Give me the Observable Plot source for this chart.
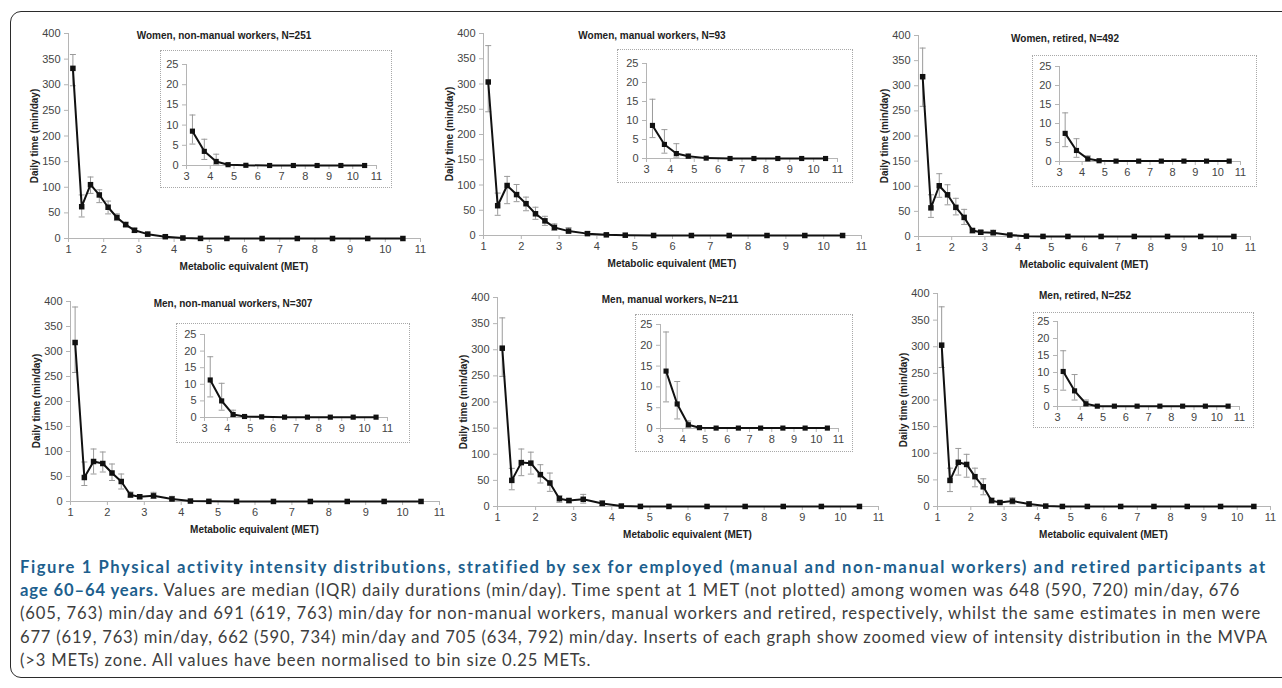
<!DOCTYPE html>
<html><head><meta charset="utf-8">
<script src="https://cdn.jsdelivr.net/npm/d3@7"></script>
<script src="https://cdn.jsdelivr.net/npm/@observablehq/plot@0.6"></script>
<style>
html,body{margin:0;padding:0;background:#fff;width:1282px;height:688px;overflow:hidden;}
#stage{position:relative;width:1282px;height:688px;font-family:"Liberation Sans",Arial,sans-serif;overflow:hidden;}
.frame{position:absolute;left:10px;top:11px;width:1320px;height:667px;border:1.6px solid #2b2b2b;border-radius:11px;box-sizing:border-box;}
.lab{position:absolute;font-weight:bold;font-size:10px;color:#222;white-space:nowrap;transform:translate(-50%,-50%);}
.ylab{position:absolute;font-weight:bold;font-size:10px;color:#222;white-space:nowrap;transform:translate(-50%,-50%) rotate(-90deg);}
.inset{position:absolute;border:1px dotted #a8a8a8;background:#fff;box-sizing:border-box;}
.inset svg{position:absolute;left:-1px;top:-1px;}
.caption{position:absolute;left:20px;top:556px;font-family:Lato,"Open Sans",sans-serif;font-size:16.6px;color:#3d3d3d;}
.caption .ln{white-space:nowrap;height:23.2px;line-height:23.2px;}
.caption .ln span.w{display:inline-block;}
.caption b{color:#1d5f8e;font-weight:bold;}
</style></head>
<body><div id="stage"><div class="frame"></div></div>
<script>
// ---------- data ----------
const met = [1.125,1.375,1.625,1.875,2.125,2.375,2.625,2.875,3.25,3.75,4.25,4.75,5.5,6.5,7.5,8.5,9.5,10.5];
const mainXTicks = [1,2,3,4,5,6,7,8,9,10,11];
const mainYTicks = [0,50,100,150,200,250,300,350,400];
const insetXTicks = [3,4,5,6,7,8,9,10,11];
const insetYTicks = [0,5,10,15,20,25];
const titles = ["Women, non-manual workers, N=251","Women, manual workers, N=93","Women, retired, N=492",
                "Men, non-manual workers, N=307","Men, manual workers, N=211","Men, retired, N=252"];
const xTitle = "Metabolic equivalent (MET)";
const yTitle = "Daily time (min/day)";

const womenNonManual    = [332,62,105,85,61,41,27,16,8.5,3.5,1.0,0.2,0.05,0,0,0,0,0];
const womenNonManualLo  = [298,42,88,70,48,35,23,12,5.3,1.5,0.2,0,0,0,0,0,0,0];
const womenNonManualHi  = [359,85,120,95,73,48,32,20,12.5,6.5,2.8,0.6,0.2,0,0,0,0,0];

const womenManual       = [304,59,99,81,63,43,29,16,8.7,3.7,1.3,0.6,0.1,0,0,0,0,0];
const womenManualLo     = [245,40,63,67,49,32,20,10,5.5,1.4,0.35,0.1,0,0,0,0,0,0];
const womenManualHi     = [376,84,117,101,76,56,38,23,15.6,7.6,3.9,1.2,0.3,0,0,0,0,0];

const womenRetired      = [318,57,101,83,58,38,12,8.5,7.4,2.9,0.7,0.2,0.1,0.1,0.1,0.1,0.1,0.1];
const womenRetiredLo    = [259,38,78,63,43,24,7,5,3.9,1.1,0.1,0,0.1,0.1,0.1,0.1,0.1,0.1];
const womenRetiredHi    = [375,83,125,103,76,54,15,12,12.8,6.0,1.5,0.5,0.1,0.1,0.1,0.1,0.1,0.1];

const menNonManual      = [318,48,80,76,57,40,13,9.5,11.3,5.0,0.9,0.3,0.2,0.1,0.1,0.1,0.1,0.1];
const menNonManualLo    = [258,32,55,59,42,25,9,6,6.2,2.2,0.3,0.1,0.2,0.1,0.1,0.1,0.1,0.1];
const menNonManualHi    = [389,79,105,99,75,55,19,13,18.3,10.3,2.2,0.6,0.2,0.1,0.1,0.1,0.1,0.1];

const menManual         = [303,50,84,83,61,45,15,11.5,13.8,5.9,0.9,0.2,0.1,0.1,0.1,0.1,0.1,0.1];
const menManualLo       = [249,32,59,62,45,29,8,7,6.4,2.3,0.3,0,0.1,0.1,0.1,0.1,0.1,0.1];
const menManualHi       = [361,73,110,104,80,64,21,15,23.2,11.3,1.8,0.5,0.1,0.1,0.1,0.1,0.1,0.1];

const menRetired        = [303,49,83,79,56,37,11,7.5,10.3,4.6,0.8,0.1,0.1,0.1,0.1,0.1,0.1,0.1];
const menRetiredLo      = [261,28,59,55,37,22,7,5,4.8,1.9,0.2,0,0.1,0.1,0.1,0.1,0.1,0.1];
const menRetiredHi      = [375,72,109,98,72,52,16,11,16.4,9.4,1.9,0.4,0.1,0.1,0.1,0.1,0.1,0.1];

const series = [
  [womenNonManual, womenNonManualLo, womenNonManualHi],
  [womenManual, womenManualLo, womenManualHi],
  [womenRetired, womenRetiredLo, womenRetiredHi],
  [menNonManual, menNonManualLo, menNonManualHi],
  [menManual, menManualLo, menManualHi],
  [menRetired, menRetiredLo, menRetiredHi]
];

// ---------- layout (pixel geometry of each panel) ----------
const layout = [
 {xL:68,  xR:420,  yT:33,  yB:238, tx:224,  ty:35,  box:[160,50,392,188],   ix:[186,376],  iy:[64,165]},
 {xL:483, xR:861,  yT:33,  yB:235, tx:652,  ty:35,  box:[617,49,853,183],   ix:[646,837],  iy:[63,158]},
 {xL:918, xR:1250, yT:35,  yB:236, tx:1065, ty:38,  box:[1032,55,1257,187], ix:[1059,1240], iy:[66,161]},
 {xL:70,  xR:439,  yT:301, yB:501, tx:233,  ty:303, box:[176,323,410,443],  ix:[204,387],  iy:[334,417]},
 {xL:497, xR:878,  yT:297, yB:506, tx:670,  ty:299, box:[635,314,853,452],  ix:[660,838],  iy:[324,428]},
 {xL:937, xR:1270, yT:293, yB:506, tx:1085, ty:295, box:[1033,312,1254,428],ix:[1057,1239], iy:[321,406]}
];

const capSym = {draw(ctx){ ctx.moveTo(-3,0); ctx.lineTo(3,0); }};
const AX = "#b5b5b5", TXT = "#444", ERR = "#9a9a9a", LINE = "#111";
const stage = document.getElementById("stage");

function marksFor(d, yTicks, xTicks, rDot, xMin){
  const e = d.filter(p => p.hi - p.lo > 0.05);
  return [
    Plot.axisY({ticks:yTicks, tickSize:4, tickPadding:4, stroke:AX, fill:TXT, label:null}),
    Plot.axisX({ticks:xTicks, tickSize:4, tickPadding:3, stroke:AX, fill:TXT, label:null}),
    Plot.ruleX([xMin], {stroke:AX}),
    Plot.ruleY([0], {stroke:AX}),
    Plot.ruleX(e, {x:"x", y1:"lo", y2:"hi", stroke:ERR, strokeWidth:1}),
    Plot.dot(e, {x:"x", y:"lo", symbol:capSym, fill:"none", stroke:ERR, strokeWidth:1}),
    Plot.dot(e, {x:"x", y:"hi", symbol:capSym, fill:"none", stroke:ERR, strokeWidth:1}),
    Plot.line(d, {x:"x", y:"y", stroke:LINE, strokeWidth:2}),
    Plot.dot(d, {x:"x", y:"y", symbol:"square", fill:LINE, stroke:"none", r:rDot})
  ];
}

layout.forEach((g, i) => {
  const [vals, lo, hi] = series[i];
  const data = met.map((x, k) => ({x, y:vals[k], lo:lo[k], hi:hi[k]}));
  // main
  const mL = 50, mR = 14, mT = 10, mB = 28;
  const svg = Plot.plot({
    width: g.xR - g.xL + mL + mR, height: g.yB - g.yT + mT + mB,
    marginLeft:mL, marginRight:mR, marginTop:mT, marginBottom:mB,
    style:{fontFamily:'"Liberation Sans", Arial, sans-serif', fontSize:"11px", background:"transparent", overflow:"visible"},
    x:{domain:[1,11]}, y:{domain:[0,400]},
    marks: marksFor(data, mainYTicks, mainXTicks, 3.1, 1)
  });
  svg.style.position = "absolute";
  svg.style.left = (g.xL - mL) + "px";
  svg.style.top = (g.yT - mT) + "px";
  svg.style.maxWidth = "none";
  stage.appendChild(svg);

  // inset
  const [bx0, by0, bx1, by1] = g.box;
  const w = bx1 - bx0, h = by1 - by0;
  const div = document.createElement("div");
  div.className = "inset";
  div.style.left = bx0 + "px"; div.style.top = by0 + "px";
  div.style.width = w + "px"; div.style.height = h + "px";
  const isvg = Plot.plot({
    width:w, height:h,
    marginLeft: g.ix[0]-bx0, marginRight: bx1-g.ix[1], marginTop: g.iy[0]-by0, marginBottom: by1-g.iy[1],
    style:{fontFamily:'"Liberation Sans", Arial, sans-serif', fontSize:"11px", background:"transparent", overflow:"visible"},
    x:{domain:[3,11]}, y:{domain:[0,25]},
    marks: marksFor(data.filter(p => p.x >= 3), insetYTicks, insetXTicks, 2.9, 3)
  });
  isvg.style.maxWidth = "none";
  div.appendChild(isvg);
  stage.appendChild(div);

  // titles
  const t = document.createElement("div");
  t.className = "lab"; t.textContent = titles[i];
  t.style.left = g.tx + "px"; t.style.top = g.ty + "px";
  stage.appendChild(t);
  const xt = document.createElement("div");
  xt.className = "lab"; xt.textContent = xTitle;
  xt.style.left = ((g.xL + g.xR)/2) + "px"; xt.style.top = (g.yB + 28) + "px";
  stage.appendChild(xt);
  const yt = document.createElement("div");
  yt.className = "ylab"; yt.textContent = yTitle;
  yt.style.left = (g.xL - 34) + "px"; yt.style.top = ((g.yT + g.yB)/2) + "px";
  stage.appendChild(yt);
});

// ---------- caption ----------
const captionLines = [
  ["Figure 1 Physical activity intensity distributions, stratified by sex for employed (manual and non-manual workers) and retired participants at", ""],
  ["age 60\u201364 years.", " Values are median (IQR) daily durations (min/day). Time spent at 1 MET (not plotted) among women was 648 (590, 720) min/day, 676"],
  ["", "(605, 763) min/day and 691 (619, 763) min/day for non-manual workers, manual workers and retired, respectively, whilst the same estimates in men were"],
  ["", "677 (619, 763) min/day, 662 (590, 734) min/day and 705 (634, 792) min/day. Inserts of each graph show zoomed view of intensity distribution in the MVPA"],
  ["", "(>3 METs) zone. All values have been normalised to bin size 0.25 METs."]
];
const targetW = [1248, 1220, 1242, 1248, null];
const cap = document.createElement("div");
cap.className = "caption";
stage.appendChild(cap);
const spans = captionLines.map(([b, n]) => {
  const ln = document.createElement("div"); ln.className = "ln";
  const s = document.createElement("span"); s.className = "w";
  if (b) { const bb = document.createElement("b"); bb.textContent = b; s.appendChild(bb); }
  if (n) s.appendChild(document.createTextNode(n));
  ln.appendChild(s); cap.appendChild(ln); return s;
});
function fit(){
  spans.forEach(s => { s.style.letterSpacing = "0px"; });
  let lsSum = 0, cnt = 0;
  spans.forEach((s, k) => {
    if (!targetW[k]) return;
    const w = s.getBoundingClientRect().width;
    const n = s.textContent.length;
    const ls = (targetW[k] - w) / n;
    s.style.letterSpacing = ls + "px";
    if (k > 1) { lsSum += ls; cnt++; }
  });
  spans[4].style.letterSpacing = (lsSum / cnt) + "px";
}
fit();
if (document.fonts && document.fonts.ready) document.fonts.ready.then(fit);
</script>
</body></html>
